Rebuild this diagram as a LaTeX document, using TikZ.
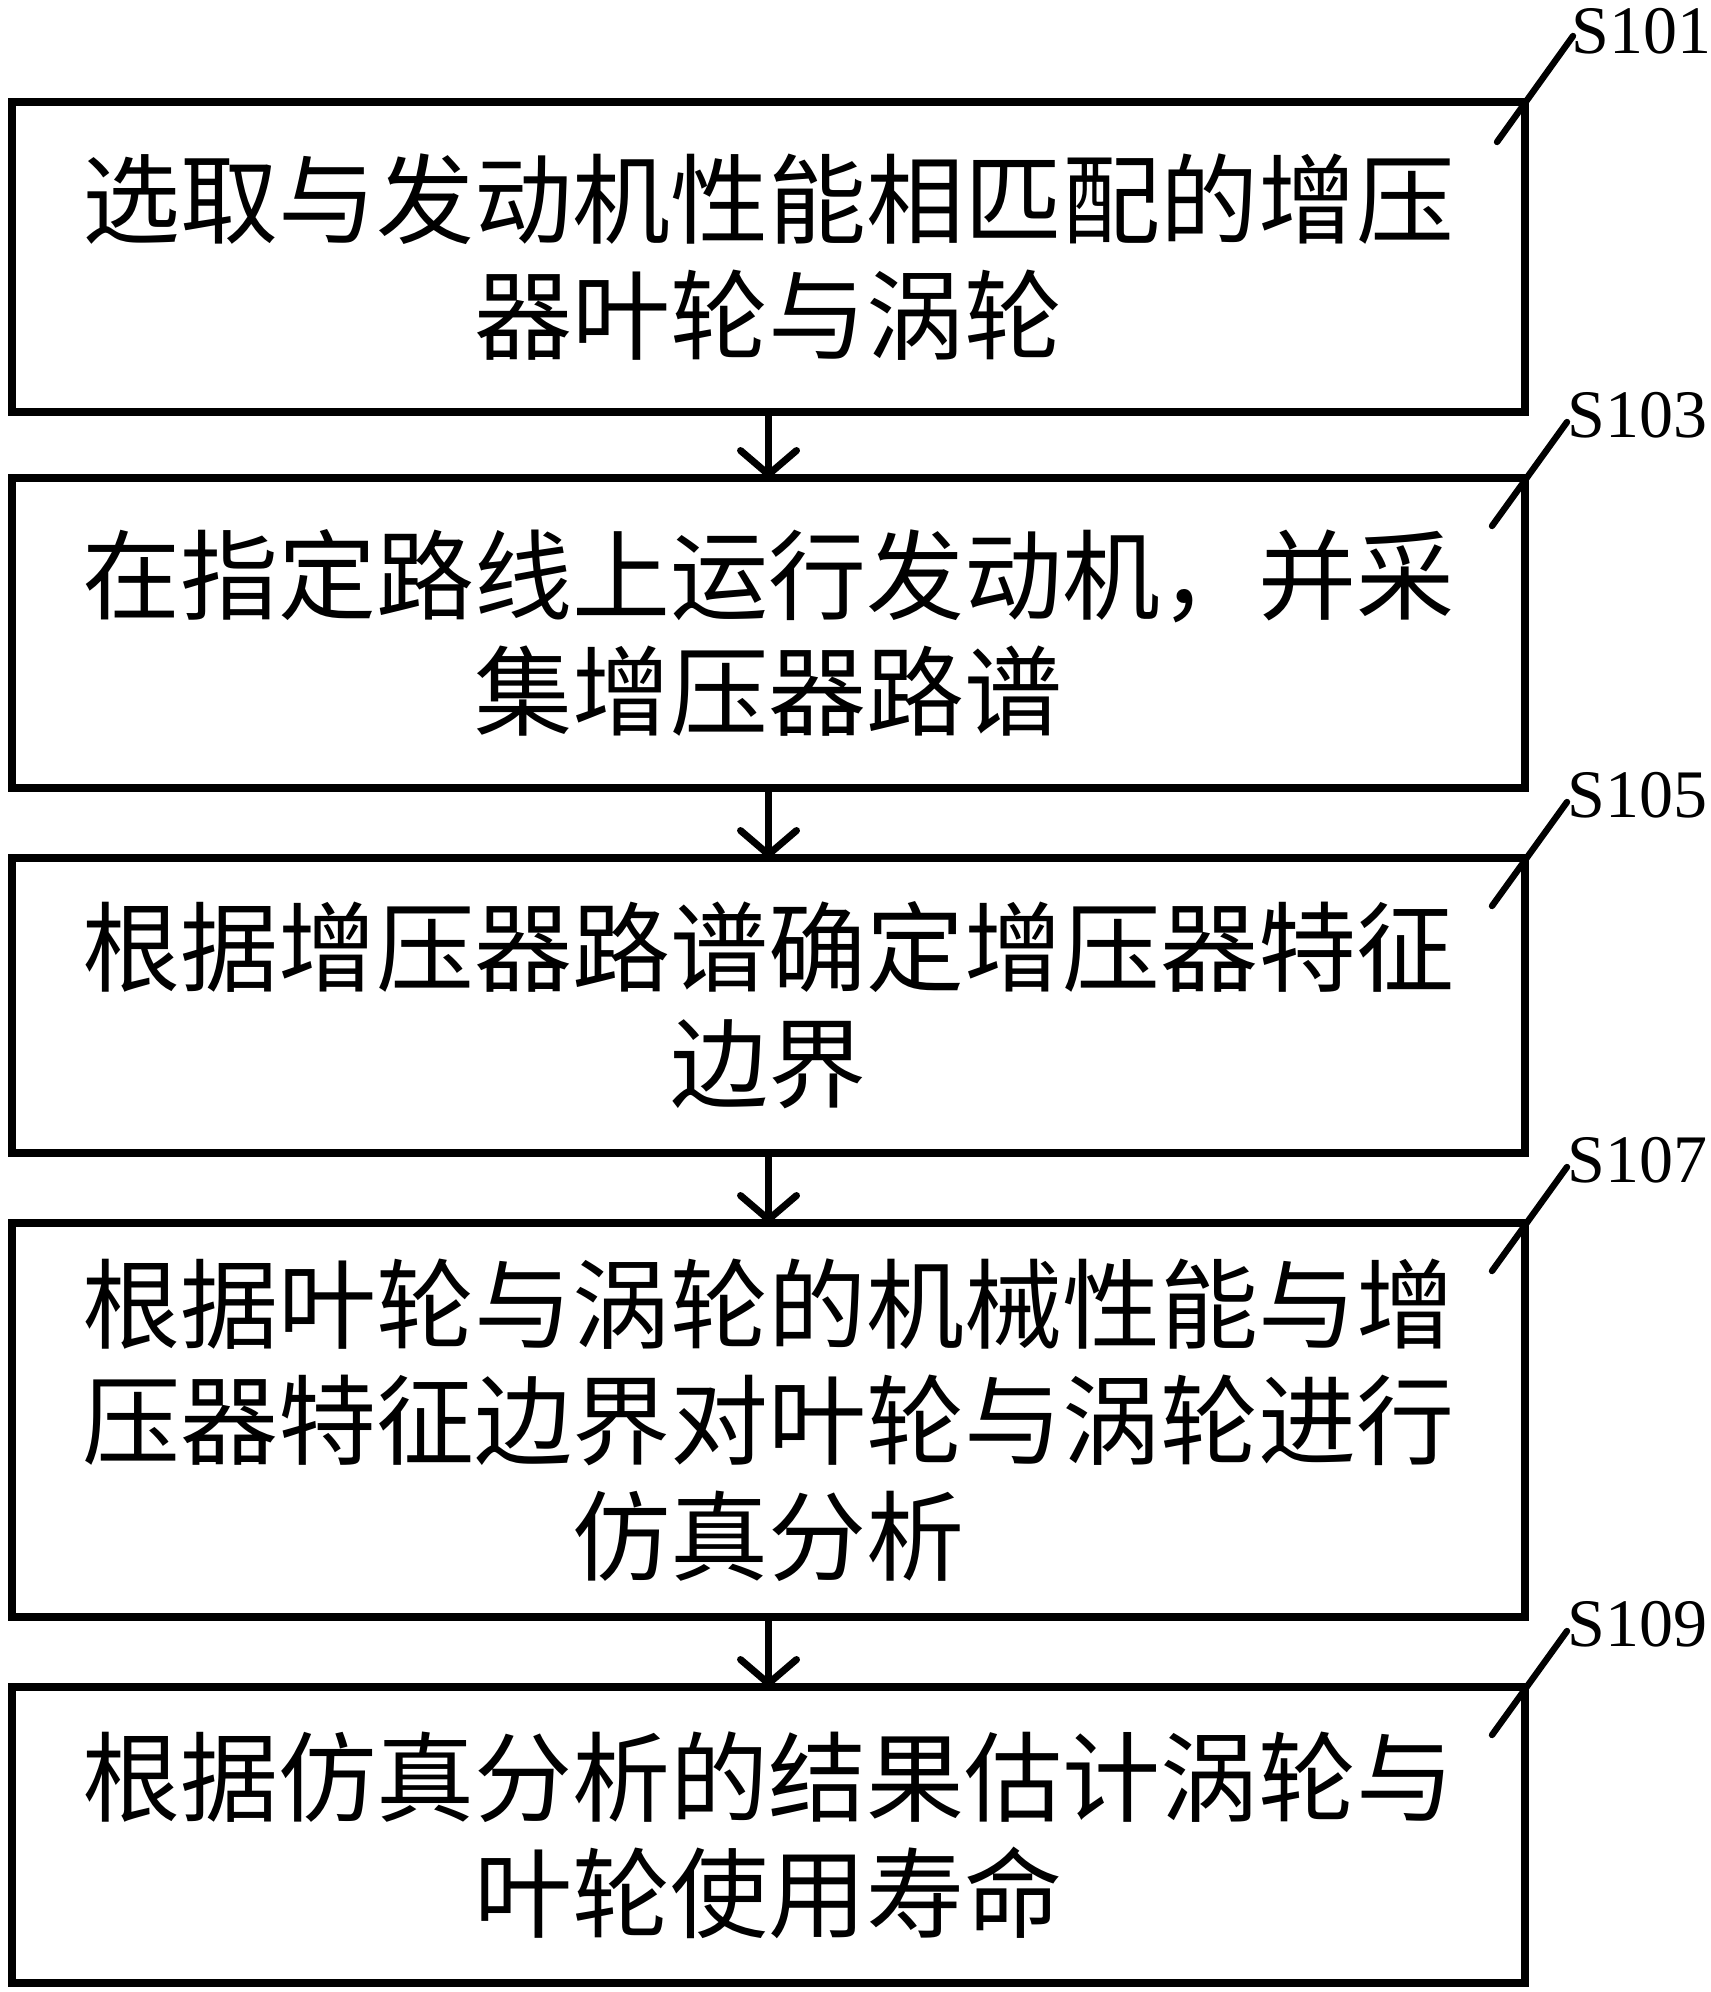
\documentclass[tikz,border=0pt]{standalone}
\usepackage{fontspec}
\newfontfamily\cjk{Noto Sans CJK SC}
\newfontfamily\stepfont{Liberation Serif}
\usetikzlibrary{calc,arrows.meta}

\begin{document}
\begin{tikzpicture}[x=0.5pt, y=-0.5pt,
  stepbox/.style={draw, line width=3.75pt, minimum width=756.5pt, inner sep=0pt, outer sep=0pt,
    text width=700pt, align=center, font=\cjk\fontsize{49pt}{58pt}\selectfont},
  steplabel/.style={anchor=base west, inner sep=0pt,
    font=\stepfont\fontsize{34pt}{34pt}\selectfont},
  leader/.style={line width=3.2pt, line cap=round},
  flow/.style={line width=3.5pt, -{Straight Barb[length=12pt,width=28pt,round]}}]
  \useasboundingbox (0,0) rectangle (1710,1992);
  % Steps
  \node[stepbox, minimum height=155pt] (b1) at (768.5,257)
    {选取与发动机性能相匹配的增压\\器叶轮与涡轮};
  \node[stepbox, minimum height=155pt] (b2) at (768.5,633)
    {在指定路线上运行发动机，并采\\集增压器路谱};
  \node[stepbox, minimum height=147.5pt] (b3) at (768.5,1005.5)
    {根据增压器路谱确定增压器特征\\边界};
  \node[stepbox, minimum height=197pt] (b4) at (768.5,1420)
    {根据叶轮与涡轮的机械性能与增\\压器特征边界对叶轮与涡轮进行\\仿真分析};
  \node[stepbox, minimum height=148pt] (b5) at (768.5,1835)
    {根据仿真分析的结果估计涡轮与\\叶轮使用寿命};
  % Flow arrows
  \draw[flow] (b1.south) -- (b2.north);
  \draw[flow] (b2.south) -- (b3.north);
  \draw[flow] (b3.south) -- (b4.north);
  \draw[flow] (b4.south) -- (b5.north);
  % Step labels and leaders
  \node[steplabel] (s1) at ($(b1.north east)+(46,-49)$) {S101};
  \coordinate (c1) at ($(b1.north east)+(-28,40)$);
  \draw[leader] (c1) -- ($(s1.base west)+(2,-17)$);
  \node[steplabel] (s2) at ($(b2.north east)+(42,-41)$) {S103};
  \coordinate (c2) at ($(b2.north east)+(-33,48)$);
  \draw[leader] (c2) -- ($(s2.base west)+(0,-15)$);
  \node[steplabel] (s3) at ($(b3.north east)+(42,-41)$) {S105};
  \coordinate (c3) at ($(b3.north east)+(-33,48)$);
  \draw[leader] (c3) -- ($(s3.base west)+(0,-15)$);
  \node[steplabel] (s4) at ($(b4.north east)+(42,-41)$) {S107};
  \coordinate (c4) at ($(b4.north east)+(-33,48)$);
  \draw[leader] (c4) -- ($(s4.base west)+(0,-15)$);
  \node[steplabel] (s5) at ($(b5.north east)+(42,-41)$) {S109};
  \coordinate (c5) at ($(b5.north east)+(-33,48)$);
  \draw[leader] (c5) -- ($(s5.base west)+(0,-15)$);
\end{tikzpicture}
\end{document}
